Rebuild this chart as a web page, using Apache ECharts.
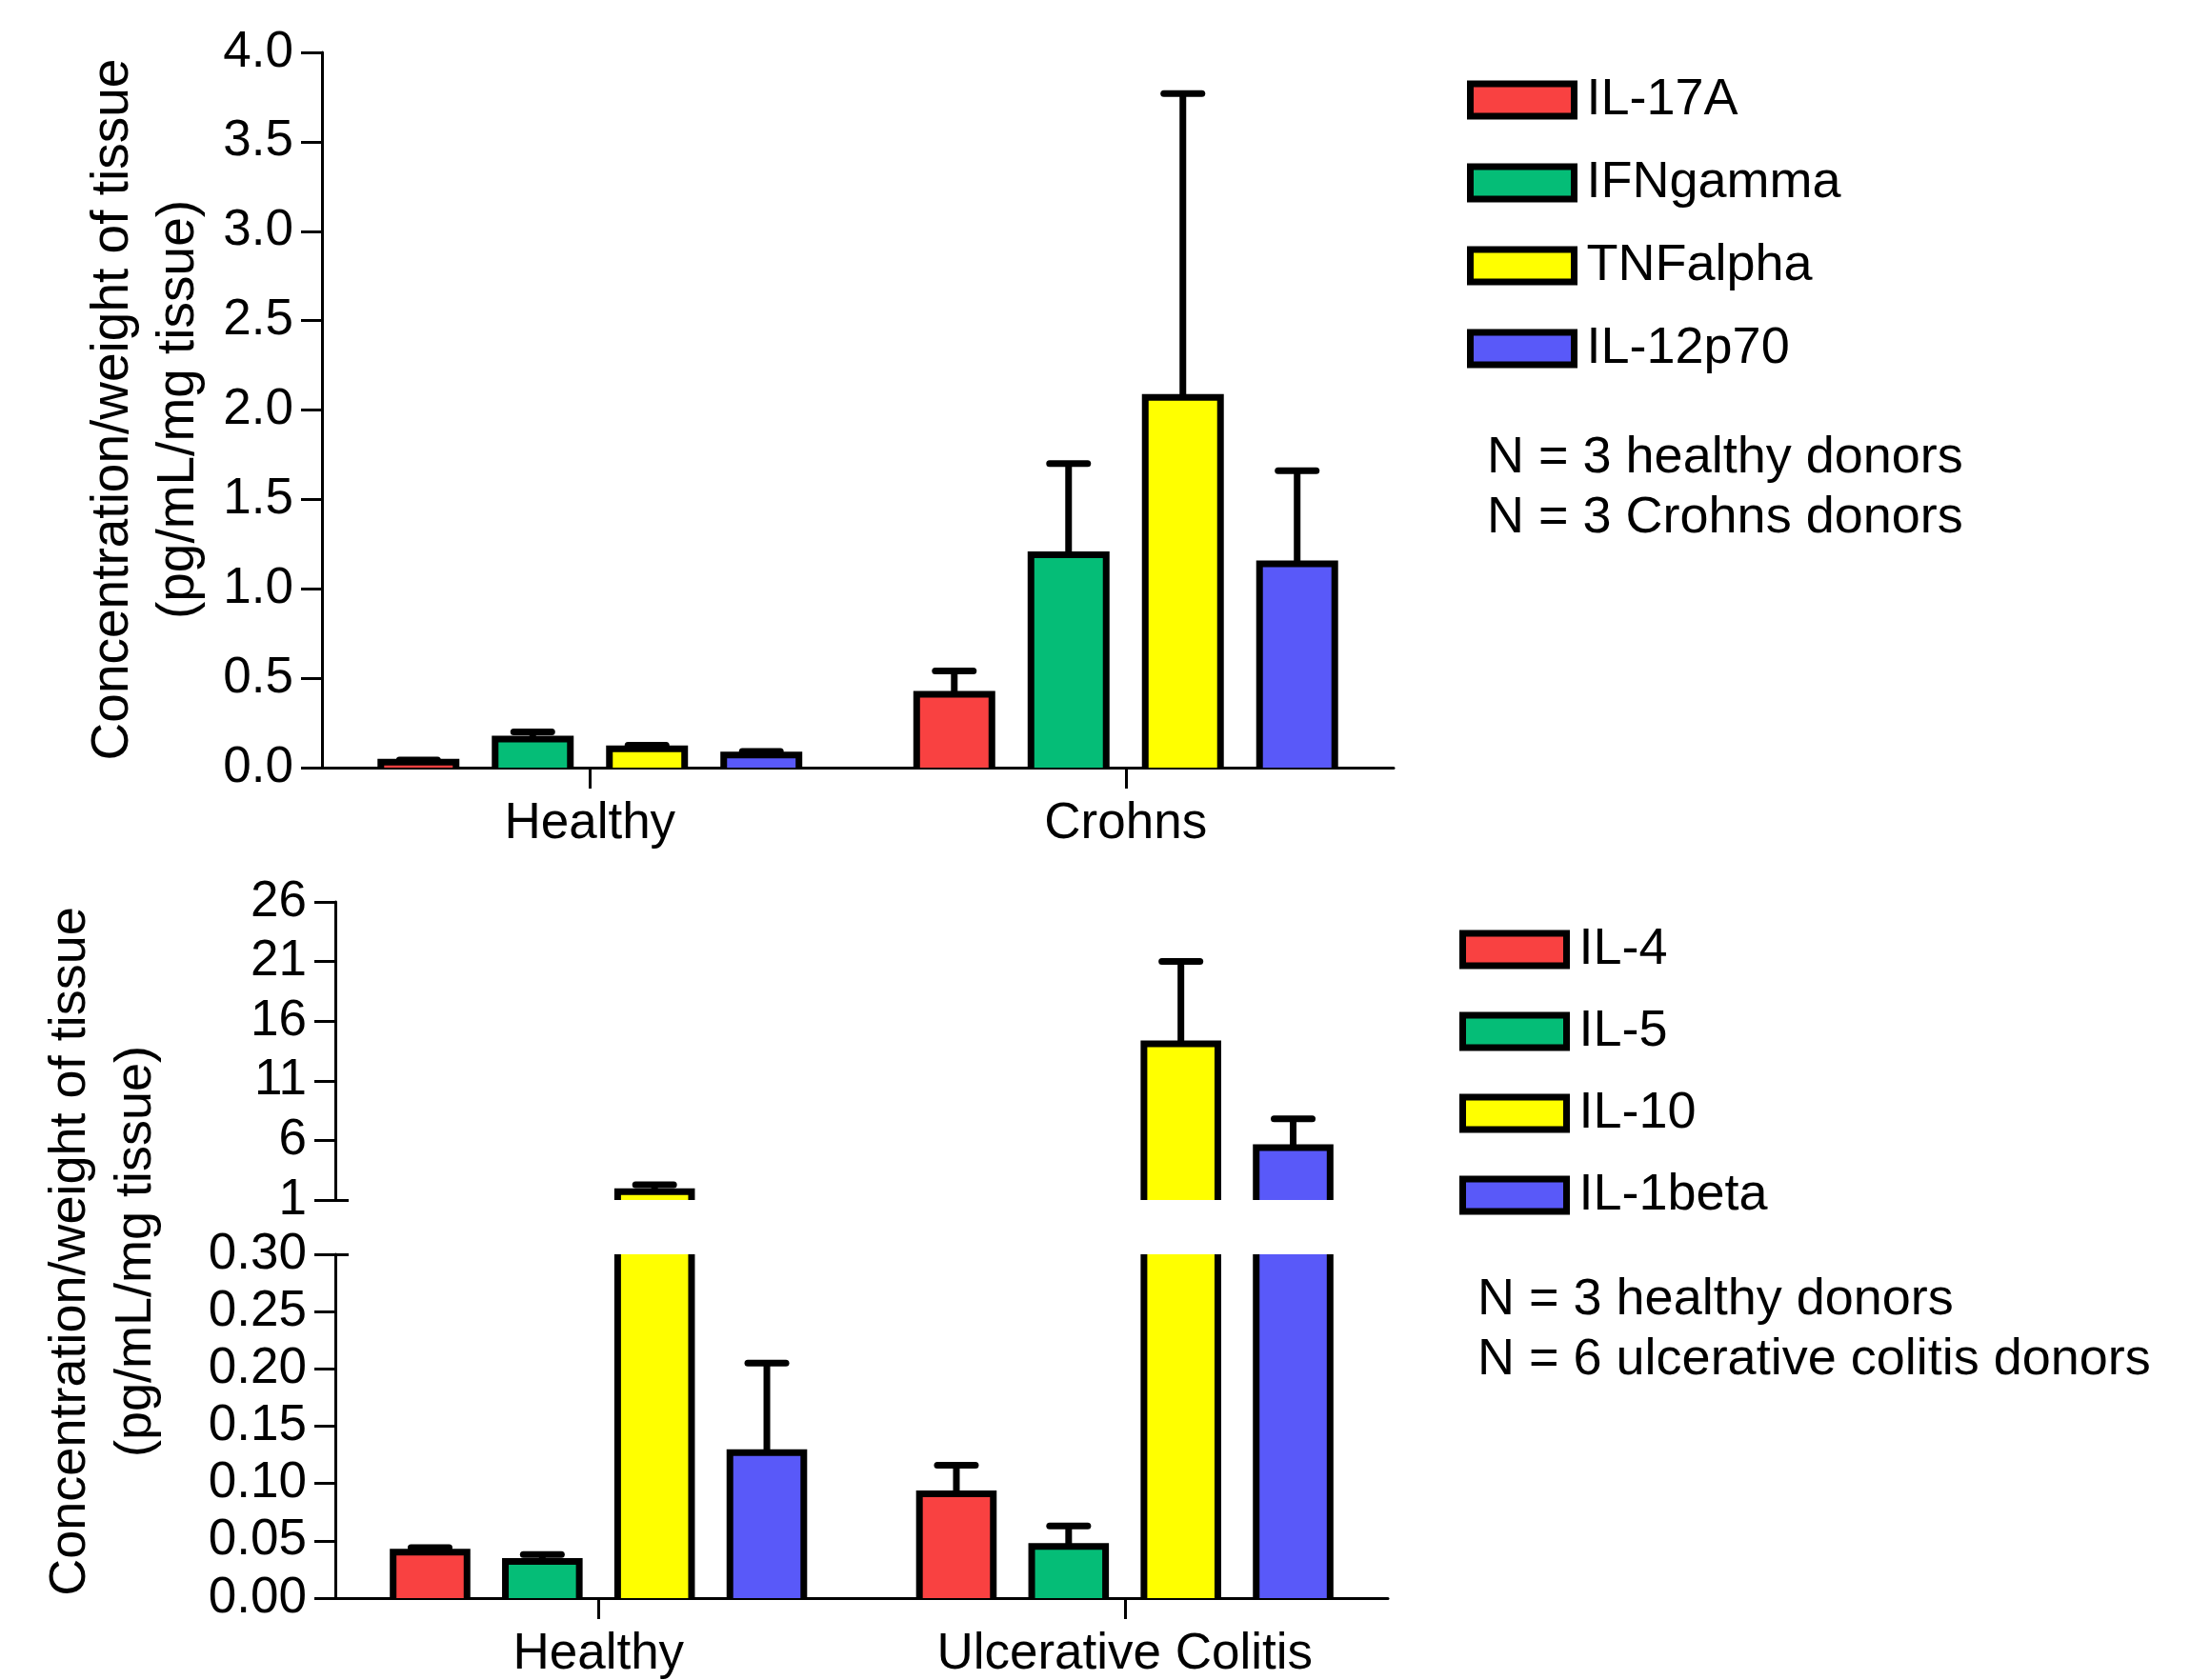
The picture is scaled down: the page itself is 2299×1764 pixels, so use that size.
<!DOCTYPE html>
<html><head><meta charset="utf-8">
<script src="https://cdn.jsdelivr.net/npm/echarts@6/dist/echarts.min.js"></script>
<style>html,body{margin:0;padding:0;background:#fff}#c{width:2299px;height:1764px}</style>
</head><body><div id="c"></div>
<script>
// ---------------- Data ----------------
const topCategories = ['Healthy', 'Crohns'];
const topSeriesNames = ['IL-17A', 'IFNgamma', 'TNFalpha', 'IL-12p70'];
const il17aMean = [0.03, 0.41];
const il17aSem  = [0.012, 0.13];
const ifngMean  = [0.16, 1.19];
const ifngSem   = [0.04, 0.51];
const tnfaMean  = [0.105, 2.07];
const tnfaSem   = [0.02, 1.70];
const il12Mean  = [0.07, 1.14];
const il12Sem   = [0.02, 0.52];

const bottomCategories = ['Healthy', 'Ulcerative Colitis'];
const bottomSeriesNames = ['IL-4', 'IL-5', 'IL-10', 'IL-1beta'];
const il4Mean  = [0.040, 0.091];
const il4Sem   = [0.004, 0.025];
const il5Mean  = [0.032, 0.045];
const il5Sem   = [0.006, 0.018];
const il10Mean = [1.7, 14.1];
const il10Sem  = [0.57, 6.9];
const il1bMean = [0.127, 5.4];
const il1bSem  = [0.078, 2.4];

const topTicks = [0, 0.5, 1.0, 1.5, 2.0, 2.5, 3.0, 3.5, 4.0];
const bottomLowerTicks = [0, 0.05, 0.10, 0.15, 0.20, 0.25, 0.30];
const bottomUpperTicks = [1, 6, 11, 16, 21, 26];

const seriesColors = ['#F94141', '#05BD77', '#FFFF00', '#5959F9'];
const yTitleLines = ['Concentration/weight of tissue', '(pg/mL/mg tissue)'];
const topNoteLines = ['N = 3 healthy donors', 'N = 3 Crohns donors'];
const bottomNoteLines = ['N = 3 healthy donors', 'N = 6 ulcerative colitis donors'];

// ---------------- Build ----------------
const FONT = '"Liberation Sans", Arial, sans-serif';
const topMeans = [il17aMean, ifngMean, tnfaMean, il12Mean];
const topSems = [il17aSem, ifngSem, tnfaSem, il12Sem];
const botMeans = [il4Mean, il5Mean, il10Mean, il1bMean];
const botSems = [il4Sem, il5Sem, il10Sem, il1bSem];

function barRenderer(k, n) {
  return function (params, api) {
    const cs = params.coordSys;
    const cat = api.value(0), v = api.value(1), e = api.value(2);
    const band = api.size([1, 0])[0];
    const pitch = band * 0.2133, w = band * 0.1404;
    const cx = api.coord([cat, 0])[0] + (k - (n - 1) / 2) * pitch;
    const yMin = cs.y, yMax = cs.y + cs.height;
    const yVal = api.coord([cat, v])[1];
    const yZero = api.coord([cat, 0])[1];
    const children = [];
    if (yVal >= yMax) return { type: 'group', children: children };
    const topClipped = yVal < yMin;
    const t = Math.max(yVal, yMin), b = Math.min(yZero, yMax);
    const L = cx - w / 2, R = cx + w / 2;
    if (!topClipped) {
      const yErr = api.coord([cat, v + e])[1];
      const ye = Math.max(yErr, yMin);
      children.push({ type: 'line', shape: { x1: cx, y1: t, x2: cx, y2: ye },
        style: { stroke: '#000', lineWidth: 7 } });
      if (yErr >= yMin) {
        children.push({ type: 'line', shape: { x1: cx - 20, y1: yErr, x2: cx + 20, y2: yErr },
          style: { stroke: '#000', lineWidth: 7, lineCap: 'round' } });
      }
    }
    children.push({ type: 'rect', shape: { x: L, y: t, width: w, height: b - t },
      style: { fill: api.visual('color') } });
    if (topClipped) {
      children.push({ type: 'line', shape: { x1: L, y1: b, x2: L, y2: t }, style: { stroke: '#000', lineWidth: 7 } });
      children.push({ type: 'line', shape: { x1: R, y1: b, x2: R, y2: t }, style: { stroke: '#000', lineWidth: 7 } });
    } else {
      children.push({ type: 'polyline', shape: { points: [[L, b], [L, t], [R, t], [R, b]] },
        style: { stroke: '#000', lineWidth: 7, fill: null, lineJoin: 'miter' } });
    }
    return { type: 'group', children: children };
  };
}

const series = [];
topSeriesNames.forEach(function (name, k) {
  series.push({
    type: 'custom', name: name, xAxisIndex: 0, yAxisIndex: 0,
    itemStyle: { color: seriesColors[k] },
    encode: { x: 0, y: 1 },
    data: topCategories.map(function (c, i) { return [i, topMeans[k][i], topSems[k][i]]; }),
    renderItem: barRenderer(k, 4)
  });
});
bottomSeriesNames.forEach(function (name, k) {
  [1, 2].forEach(function (g) {
    series.push({
      type: 'custom', name: name, xAxisIndex: g, yAxisIndex: g,
      itemStyle: { color: seriesColors[k] },
      encode: { x: 0, y: 1 },
      data: bottomCategories.map(function (c, i) { return [i, botMeans[k][i], botSems[k][i]]; }),
      renderItem: barRenderer(k, 4)
    });
  });
});

const axisLine = { show: true, lineStyle: { color: '#000', width: 3 } };
const tickStyle = { color: '#000', width: 3 };
const catAxis = function (gi, cats, show) {
  return {
    type: 'category', gridIndex: gi, data: cats, show: show, boundaryGap: true,
    axisLine: axisLine,
    axisTick: { show: true, alignWithLabel: true, length: 22, lineStyle: tickStyle },
    axisLabel: { fontSize: 53, color: '#000', margin: 33, fontFamily: FONT, interval: 0 },
    splitLine: { show: false }
  };
};

const option = {
  animation: false,
  backgroundColor: '#fff',
  textStyle: { fontFamily: FONT, color: '#000' },
  grid: [
    { left: 338, top: 55, width: 1125, height: 751 },
    { left: 352, top: 1317, width: 1105, height: 366 },
    { left: 352, top: 947, width: 1105, height: 313 }
  ],
  xAxis: [
    catAxis(0, topCategories, true),
    catAxis(1, bottomCategories, true),
    catAxis(2, bottomCategories, false)
  ],
  yAxis: [
    { type: 'value', gridIndex: 0, min: topTicks[0], max: topTicks[topTicks.length - 1], interval: 0.5,
      axisLine: axisLine, axisTick: { show: true, length: 22, lineStyle: tickStyle },
      axisLabel: { fontSize: 53, color: '#000', margin: 30, fontFamily: FONT, formatter: function (v) { return v.toFixed(1); } },
      splitLine: { show: false } },
    { type: 'value', gridIndex: 1, min: bottomLowerTicks[0], max: bottomLowerTicks[bottomLowerTicks.length - 1], interval: 0.05,
      axisLine: axisLine, axisTick: { show: true, length: 22, lineStyle: tickStyle },
      axisLabel: { fontSize: 53, color: '#000', margin: 30, fontFamily: FONT, formatter: function (v) { return v.toFixed(2); } },
      splitLine: { show: false } },
    { type: 'value', gridIndex: 2, min: bottomUpperTicks[0], max: bottomUpperTicks[bottomUpperTicks.length - 1],
      axisLine: axisLine, axisTick: { show: true, length: 22, lineStyle: tickStyle, customValues: bottomUpperTicks },
      axisLabel: { fontSize: 53, color: '#000', margin: 30, fontFamily: FONT, customValues: bottomUpperTicks },
      splitLine: { show: false } },
    { type: 'value', gridIndex: 1, min: bottomLowerTicks[0], max: bottomLowerTicks[bottomLowerTicks.length - 1], position: 'left',
      axisLine: { show: false }, axisLabel: { show: false }, splitLine: { show: false },
      axisTick: { show: true, inside: true, length: 14, lineStyle: tickStyle, customValues: [bottomLowerTicks[bottomLowerTicks.length - 1]] } },
    { type: 'value', gridIndex: 2, min: bottomUpperTicks[0], max: bottomUpperTicks[bottomUpperTicks.length - 1], position: 'left',
      axisLine: { show: false }, axisLabel: { show: false }, splitLine: { show: false },
      axisTick: { show: true, inside: true, length: 14, lineStyle: tickStyle, customValues: [bottomUpperTicks[0]] } }
  ],
  legend: [
    { data: topSeriesNames, orient: 'vertical', left: 1540, top: 78, icon: 'rect', selectedMode: false,
      itemWidth: 109, itemHeight: 34, itemGap: 33, padding: 0,
      itemStyle: { borderColor: '#000', borderWidth: 7 },
      textStyle: { fontSize: 54, color: '#000', fontFamily: FONT, padding: [0, 0, 0, 8] } },
    { data: bottomSeriesNames, orient: 'vertical', left: 1532, top: 970, icon: 'rect', selectedMode: false,
      itemWidth: 109, itemHeight: 34, itemGap: 32, padding: 0,
      itemStyle: { borderColor: '#000', borderWidth: 7 },
      textStyle: { fontSize: 54, color: '#000', fontFamily: FONT, padding: [0, 0, 0, 8] } }
  ],
  graphic: [
    { type: 'text', x: 153, y: 430, rotation: Math.PI / 2,
      style: { text: yTitleLines.join('\n'), font: '55px ' + FONT, fill: '#000', align: 'center', verticalAlign: 'middle', lineHeight: 69 } },
    { type: 'text', x: 108.5, y: 1314, rotation: Math.PI / 2,
      style: { text: yTitleLines.join('\n'), font: '54px ' + FONT, fill: '#000', align: 'center', verticalAlign: 'middle', lineHeight: 69 } },
    { type: 'text', x: 1561, y: 513,
      style: { text: topNoteLines.join('\n'), font: '54px ' + FONT, fill: '#000', align: 'left', verticalAlign: 'middle', lineHeight: 63 } },
    { type: 'text', x: 1551, y: 1397,
      style: { text: bottomNoteLines.join('\n'), font: '54px ' + FONT, fill: '#000', align: 'left', verticalAlign: 'middle', lineHeight: 63 } }
  ],
  series: series
};

const chart = echarts.init(document.getElementById('c'), null, { renderer: 'canvas' });
chart.setOption(option);
</script>
</body></html>
